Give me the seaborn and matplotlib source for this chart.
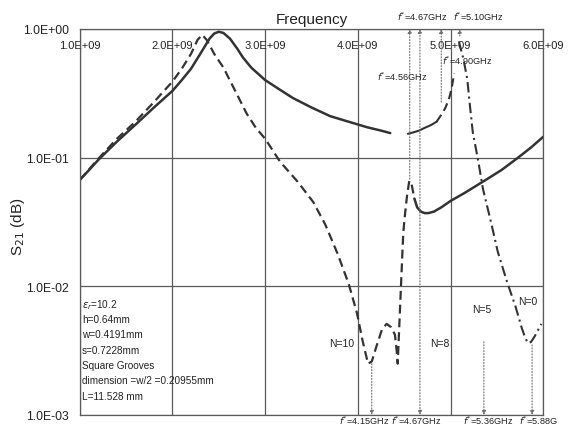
import matplotlib
matplotlib.use('Agg')
import matplotlib.pyplot as plt
from matplotlib.ticker import NullLocator
import seaborn as sns

# frequencies in GHz, S21 as linear magnitude (log axis)
main_f = [1.0, 1.1, 1.2, 1.4, 1.6, 1.8, 2.0, 2.1, 2.2, 2.3, 2.4, 2.45, 2.5, 2.55,
          2.62, 2.7, 2.76, 2.85, 3.0, 3.15, 3.3, 3.5, 3.7, 3.9, 4.1, 4.25, 4.35]
main_s21 = [0.067, 0.080, 0.096, 0.133, 0.18, 0.245, 0.33, 0.40, 0.49, 0.64, 0.84, 0.92, 0.95, 0.93,
            0.84, 0.70, 0.60, 0.50, 0.40, 0.34, 0.29, 0.245, 0.21, 0.19, 0.172, 0.162, 0.155]

n10_f = [1.0, 1.2, 1.4, 1.6, 1.8, 2.0, 2.1, 2.2, 2.27, 2.32, 2.37, 2.45, 2.55, 2.65,
         2.8, 2.9, 3.0, 3.16, 3.35, 3.52, 3.65, 3.78, 3.9, 3.99, 4.05, 4.11, 4.15,
         4.2, 4.26, 4.31, 4.36, 4.40, 4.42, 4.43, 4.45, 4.47, 4.49, 4.51, 4.53, 4.555, 4.58, 4.61]
n10_s21 = [0.067, 0.098, 0.14, 0.19, 0.27, 0.39, 0.49, 0.64, 0.82, 0.90, 0.82, 0.64, 0.50, 0.36,
           0.22, 0.17, 0.14, 0.093, 0.065, 0.045, 0.030, 0.018, 0.0105, 0.0062, 0.0038, 0.0025, 0.0026,
           0.0034, 0.0046, 0.0051, 0.0048, 0.0042, 0.0031, 0.0025, 0.0055, 0.012, 0.026, 0.037, 0.050, 0.066, 0.062, 0.048]

n8_f = [4.61, 4.64, 4.68, 4.72, 4.76, 4.82, 4.9, 5.0, 5.15, 5.35, 5.55, 5.73, 5.87, 6.0]
n8_s21 = [0.048, 0.041, 0.038, 0.037, 0.037, 0.038, 0.041, 0.046, 0.053, 0.065, 0.08, 0.10, 0.12, 0.145]

n5_f = [4.54, 4.6, 4.66, 4.72, 4.79, 4.85]
n5_s21 = [0.153, 0.157, 0.162, 0.170, 0.179, 0.19]
n5_dash_f = [4.85, 4.9, 4.94, 4.98, 5.01, 5.04]
n5_dash_s21 = [0.19, 0.215, 0.24, 0.28, 0.34, 0.45]

n0_f = [5.09, 5.14, 5.18, 5.21, 5.24, 5.30, 5.35, 5.43, 5.51, 5.61, 5.70, 5.77, 5.81, 5.84, 5.87, 5.91, 5.98]
n0_s21 = [0.80, 0.58, 0.41, 0.25, 0.158, 0.093, 0.057, 0.033, 0.0185, 0.0108, 0.0070, 0.0047, 0.0039,
          0.0036, 0.0037, 0.0041, 0.0051]

xticks = [1, 2, 3, 4, 5, 6]
xtick_labels = ['1.0E+09', '2.0E+09', '3.0E+09', '4.0E+09', '5.0E+09', '6.0E+09']
yticks = [1e-3, 1e-2, 1e-1, 1e0]
ytick_labels = ['1.0E-03', '1.0E-02', '1.0E-01', '1.0E+00']

# f* markers: frequency, where the dotted arrow starts
fstar_top = [4.56, 4.67, 4.90, 5.10]
fstar_top_from = [0.068, 0.03, 0.27, 0.88]
fstar_bot = [4.15, 4.67, 5.36, 5.88]
fstar_bot_from = [0.0025, 0.03, 0.0037, 0.0035]

info_lines = [r'$\varepsilon_r$=10.2', 'h=0.64mm', 'w=0.4191mm', 's=0.7228mm',
              'Square Grooves', 'dimension =w/2 =0.20955mm', 'L=11.528 mm']

sns.set_style('white')
plt.rcParams['font.family'] = ['Liberation Sans', 'DejaVu Sans']

line_c = '#333333'
grid_c = '#5a5a5a'
txt_c = '#222222'

fig, ax = plt.subplots(figsize=(5.7, 4.27), dpi=100)
fig.subplots_adjust(left=0.140, right=0.953, top=0.930, bottom=0.026)
ax.set_yscale('log')

dashed = (0, (4, 2.2))
dashdot = (0, (5, 2, 1, 2))
sns.lineplot(x=main_f, y=main_s21, ax=ax, color=line_c, lw=1.8, sort=False, estimator=None)
sns.lineplot(x=n10_f, y=n10_s21, ax=ax, color=line_c, lw=1.6, linestyle=dashed, sort=False, estimator=None)
sns.lineplot(x=n8_f, y=n8_s21, ax=ax, color=line_c, lw=1.8, sort=False, estimator=None)
sns.lineplot(x=n5_f, y=n5_s21, ax=ax, color=line_c, lw=1.5, sort=False, estimator=None)
sns.lineplot(x=n5_dash_f, y=n5_dash_s21, ax=ax, color=line_c, lw=1.5, linestyle=dashed, sort=False, estimator=None)
sns.lineplot(x=n0_f, y=n0_s21, ax=ax, color=line_c, lw=1.5, linestyle=dashdot, sort=False, estimator=None)

ax.set_xlim(1, 6)
ax.set_ylim(1e-3, 1)
ax.set_xticks(xticks)
ax.set_xticklabels(xtick_labels)
ax.set_yticks(yticks)
ax.set_yticklabels(ytick_labels)
ax.yaxis.set_minor_locator(NullLocator())
ax.grid(True, color=grid_c, lw=0.9)
for sp in ax.spines.values():
    sp.set_color(grid_c)
    sp.set_linewidth(0.9)

ax.tick_params(axis='x', bottom=False, top=False, labelbottom=False, labeltop=True,
               length=0, pad=-15, labelsize=8, labelcolor=txt_c)
ax.tick_params(axis='y', length=0, pad=8, labelsize=8.8, labelcolor=txt_c)

ax.set_xlabel('Frequency', fontsize=11, color=txt_c)
ax.xaxis.set_label_position('top')
ax.xaxis.set_label_coords(0.5, 1.014)
ax.set_ylabel('S$_{21}$ (dB)', fontsize=11, color=txt_c)
ax.yaxis.set_label_coords(-0.115, 0.49)

arrow_kw = dict(arrowstyle='-|>', color='#707070', lw=0.8, linestyle=':',
                mutation_scale=6, shrinkA=0, shrinkB=0)
for f, v in zip(fstar_top, fstar_top_from):
    ax.annotate('', xy=(f, 1.0), xytext=(f, v), arrowprops=arrow_kw, annotation_clip=False)
for f, v in zip(fstar_bot, fstar_bot_from):
    ax.annotate('', xy=(f, 1e-3), xytext=(f, v), arrowprops=arrow_kw, annotation_clip=False)

fs = 6.6
ax.text(4.69, 1.27, r'$f^{*}$=4.67GHz', fontsize=fs, ha='center', va='center', color=txt_c)
ax.text(5.03, 1.27, r'$f^{*}$=5.10GHz', fontsize=fs, ha='left', va='center', color=txt_c)
ax.text(5.18, 0.58, r'$f^{*}$=4.90GHz', fontsize=fs, ha='center', va='center', color=txt_c)
ax.text(4.48, 0.43, r'$f^{*}$=4.56GHz', fontsize=fs, ha='center', va='center', color=txt_c)
for f, lab in zip([4.07, 4.63, 5.41, 5.95],
                  [r'$f^{*}$=4.15GHz', r'$f^{*}$=4.67GHz', r'$f^{*}$=5.36GHz', r'$f^{*}$=5.88G']):
    ax.text(f, 0.00092, lab, fontsize=fs, ha='center', va='center', color=txt_c)

ax.text(3.83, 0.0036, 'N=10', fontsize=7.5, ha='center', va='center', color=txt_c)
ax.text(4.88, 0.0036, 'N=8', fontsize=7.5, ha='center', va='center', color=txt_c)
ax.text(5.34, 0.0066, 'N=5', fontsize=7.5, ha='center', va='center', color=txt_c)
ax.text(5.83, 0.0077, 'N=0', fontsize=7.5, ha='center', va='center', color=txt_c)

for i, line in enumerate(info_lines):
    ax.text(0.005, 0.2876 - i * 0.0396, line, transform=ax.transAxes, fontsize=7.2,
            ha='left', va='center', color=txt_c)

fig.savefig('out.png', dpi=100)
